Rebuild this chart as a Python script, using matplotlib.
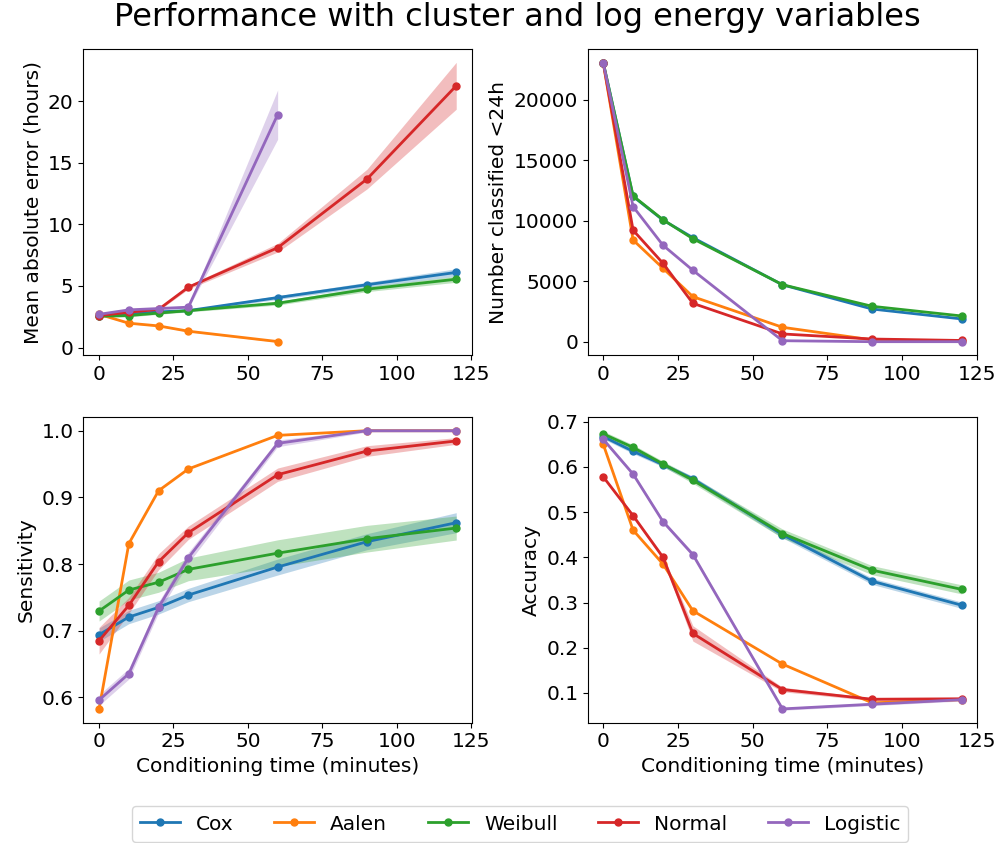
import matplotlib
matplotlib.use("Agg")
import matplotlib.pyplot as plt
import numpy as np

times = [0, 10, 20, 30, 60, 90, 120]
times_short = [0, 10, 20, 30, 60]
models = ["Cox", "Aalen", "Weibull", "Normal", "Logistic"]
colors = ["#1f77b4", "#ff7f0e", "#2ca02c", "#d62728", "#9467bd"]

# Mean absolute error (hours)
mae_cox = [2.6, 2.7, 2.9, 3.0, 4.06, 5.1, 6.1]
mae_aalen = [2.7, 1.98, 1.76, 1.33, 0.49]
mae_weibull = [2.55, 2.6, 2.8, 3.0, 3.6, 4.74, 5.55]
mae_normal = [2.6, 2.87, 3.1, 4.9, 8.1, 13.67, 21.24]
mae_logistic = [2.7, 3.06, 3.17, 3.28, 18.9]
mae_cox_err = [0.1, 0.1, 0.1, 0.1, 0.15, 0.2, 0.3]
mae_aalen_err = [0.05, 0.05, 0.05, 0.05, 0.05]
mae_weibull_err = [0.1, 0.1, 0.1, 0.1, 0.15, 0.2, 0.25]
mae_normal_err = [0.1, 0.1, 0.1, 0.15, 0.35, 0.8, 1.9]
mae_logistic_err = [0.05, 0.1, 0.1, 0.1, 2.0]

# Number classified <24h
num_cox = [23050, 12000, 10050, 8600, 4700, 2700, 1880]
num_aalen = [23050, 8400, 6070, 3720, 1190, 150, 50]
num_weibull = [23050, 12040, 10080, 8510, 4710, 2925, 2125]
num_normal = [23050, 9210, 6480, 3170, 640, 220, 100]
num_logistic = [23050, 11160, 7970, 5900, 80, 0, 0]

# Sensitivity
sens_cox = [0.694, 0.7205, 0.735, 0.7535, 0.7955, 0.8335, 0.862]
sens_aalen = [0.5825, 0.8306, 0.910, 0.9426, 0.993, 1.0, 1.0]
sens_weibull = [0.7295, 0.761, 0.7727, 0.792, 0.8163, 0.838, 0.854]
sens_normal = [0.685, 0.738, 0.8035, 0.847, 0.934, 0.9695, 0.9846]
sens_logistic = [0.596, 0.6355, 0.735, 0.8095, 0.981, 1.0, 1.0]
sens_cox_err = [0.01, 0.01, 0.01, 0.01, 0.012, 0.012, 0.015]
sens_aalen_err = [0.0, 0.0, 0.0, 0.0, 0.0, 0.0, 0.0]
sens_weibull_err = [0.015, 0.015, 0.015, 0.017, 0.02, 0.02, 0.018]
sens_normal_err = [0.02, 0.012, 0.012, 0.01, 0.01, 0.008, 0.005]
sens_logistic_err = [0.008, 0.008, 0.008, 0.008, 0.005, 0.002, 0.002]

# Accuracy
acc_cox = [0.667, 0.6345, 0.605, 0.5735, 0.450, 0.347, 0.294]
acc_aalen = [0.65, 0.46, 0.385, 0.2817, 0.1637, 0.078, 0.085]
acc_weibull = [0.673, 0.643, 0.6066, 0.5705, 0.4526, 0.3715, 0.329]
acc_normal = [0.578, 0.492, 0.40, 0.2316, 0.1075, 0.086, 0.087]
acc_logistic = [0.661, 0.584, 0.479, 0.406, 0.0646, 0.075, 0.085]
acc_cox_err = [0.005, 0.005, 0.005, 0.006, 0.007, 0.007, 0.007]
acc_aalen_err = [0.0, 0.0, 0.0, 0.0, 0.0, 0.0, 0.0]
acc_weibull_err = [0.006, 0.006, 0.006, 0.007, 0.01, 0.01, 0.01]
acc_normal_err = [0.003, 0.004, 0.005, 0.017, 0.005, 0.003, 0.003]
acc_logistic_err = [0.004, 0.004, 0.004, 0.005, 0.003, 0.003, 0.003]

fig = plt.figure(figsize=(9.97, 8.43), dpi=100)
W, H = 997.0, 843.0
def ax_at(x0, y0, x1, y1):
    return fig.add_axes([x0 / W, 1 - y1 / H, (x1 - x0) / W, (y1 - y0) / H])

ax1 = ax_at(83.3, 49.3, 472, 355)
ax2 = ax_at(588, 49.3, 976.7, 355)
ax3 = ax_at(83.3, 417.3, 472, 722.7)
ax4 = ax_at(588, 417.3, 976.7, 722.7)

FS = 14.5
lw = 2.0
ms = 5

def draw(ax, xs_list, ys_list, errs_list):
    handles = []
    for xs, ys, errs, c, name in zip(xs_list, ys_list, errs_list, colors, models):
        xs = np.array(xs); ys = np.array(ys)
        if errs is not None:
            e = np.array(errs)
            ax.fill_between(xs, ys - e, ys + e, color=c, alpha=0.3, lw=0)
        h, = ax.plot(xs, ys, color=c, lw=lw, marker="o", ms=ms, label=name)
        handles.append(h)
    ax.tick_params(labelsize=FS)
    return handles

handles = draw(ax1,
     [times, times_short, times, times, times_short],
     [mae_cox, mae_aalen, mae_weibull, mae_normal, mae_logistic],
     [mae_cox_err, mae_aalen_err, mae_weibull_err, mae_normal_err, mae_logistic_err])
ax1.set_ylabel("Mean absolute error (hours)", fontsize=FS)
ax1.set_ylim(-0.6, 24.2)
ax1.set_yticks([0, 5, 10, 15, 20])

draw(ax2, [times] * 5,
     [num_cox, num_aalen, num_weibull, num_normal, num_logistic],
     [None] * 5)
ax2.set_ylabel("Number classified <24h", fontsize=FS)
ax2.set_ylim(-1100, 24165)
ax2.set_yticks([0, 5000, 10000, 15000, 20000])

draw(ax3, [times] * 5,
     [sens_cox, sens_aalen, sens_weibull, sens_normal, sens_logistic],
     [sens_cox_err, sens_aalen_err, sens_weibull_err, sens_normal_err, sens_logistic_err])
ax3.set_ylabel("Sensitivity", fontsize=FS)
ax3.set_xlabel("Conditioning time (minutes)", fontsize=FS)
ax3.set_ylim(0.562, 1.0201)

draw(ax4, [times] * 5,
     [acc_cox, acc_aalen, acc_weibull, acc_normal, acc_logistic],
     [acc_cox_err, acc_aalen_err, acc_weibull_err, acc_normal_err, acc_logistic_err])
ax4.set_ylabel("Accuracy", fontsize=FS)
ax4.set_xlabel("Conditioning time (minutes)", fontsize=FS)
ax4.set_ylim(0.0341, 0.7097)

for ax in (ax1, ax3):
    ax.set_xlim(-5.3, 125.3)
for ax in (ax2, ax4):
    ax.set_xlim(-5.1, 125.0)
for ax in (ax1, ax2, ax3, ax4):
    ax.set_xticks([0, 25, 50, 75, 100, 125])

fig.suptitle("Performance with cluster and log energy variables", fontsize=23, x=517 / W, y=1 - 2 / H, va="top")
fig.legend(handles=handles, labels=models, loc="center", ncol=5, fontsize=FS,
           bbox_to_anchor=(520 / W, 1 - 824 / H), frameon=True, columnspacing=2.0,
           handlelength=2.0)

fig.savefig("out.png", dpi=100)
